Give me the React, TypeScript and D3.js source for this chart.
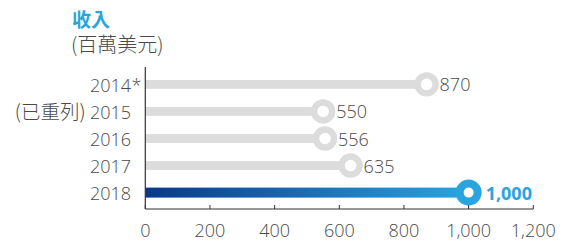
import React from "react";
import * as d3 from "d3";

const years = ["2014*", "2015", "2016", "2017", "2018"];
const notes = ["", "(已重列)", "", "", ""];
const revenue = [870, 550, 556, 635, 1000];
const highlight = [false, false, false, false, true];
const xTicks = [0, 200, 400, 600, 800, 1000, 1200];
const title = "收入";
const subtitle = "(百萬美元)";

const W = 565;
const H = 248;
const FONT = "'Open Sans', 'Noto Sans CJK TC', 'Noto Sans', sans-serif";
const CJK = "'Noto Sans CJK TC', 'Open Sans', sans-serif";
const GRAY = "#dcdcdc";
const TEXT = "#4a4a4a";
const BLUE = "#2aa4df";
const NAVY = "#0a3889";

export default function App() {
  const x = d3.scaleLinear().domain([0, 1200]).range([145.3, 533.3]);
  const y = d3.scalePoint<string>().domain(years).range([84.4, 192.6]);
  const axisY = 209;
  const fmt = d3.format(",");

  return (
    <svg
      width={W}
      height={H}
      style={{ position: "absolute", left: 0, top: 0, background: "#fff" }}
      fontFamily={FONT}
    >
      <defs>
        <linearGradient id="hl" x1="0" x2="1" y1="0" y2="0">
          <stop offset="0%" stopColor={NAVY} />
          <stop offset="100%" stopColor={BLUE} />
        </linearGradient>
      </defs>
      <text x={72} y={27} fontSize={19} fontWeight={700} fill={BLUE} fontFamily={CJK}>
        {title}
      </text>
      <text x={71} y={52} fontSize={20} fontWeight={300} fill={TEXT} fontFamily={CJK}>
        {subtitle}
      </text>

      {years.map((yr, i) => {
        const cy = y(yr)!;
        const cx = x(revenue[i]);
        const hl = highlight[i];
        const star = yr.endsWith("*");
        const base = star ? yr.slice(0, -1) : yr;
        const h = hl ? 10 : 8.8;
        return (
          <g key={yr}>
            <rect
              x={x(0)}
              y={cy - h / 2}
              width={cx - x(0)}
              height={h}
              fill={hl ? "url(#hl)" : GRAY}
            />
            <circle
              cx={cx}
              cy={cy}
              r={9}
              fill="#fff"
              stroke={hl ? BLUE : GRAY}
              strokeWidth={hl ? 8 : 6.4}
            />
            <text
              x={cx + (hl ? 17 : 13)}
              y={cy + 7}
              fontSize={18}
              fontWeight={hl ? 700 : 300}
              fill={hl ? BLUE : TEXT}
            >
              {fmt(revenue[i])}
            </text>
            <text x={131} y={cy + 7.5} fontSize={18} fontWeight={300} fill={TEXT} textAnchor="end">
              {notes[i] && (
                <tspan fontFamily={CJK} fontSize={19.5}>
                  {notes[i] + " "}
                </tspan>
              )}
              {base}
            </text>
            {star && (
              <text x={131.5} y={cy + 7.5} fontSize={18} fontWeight={300} fill={TEXT}>
                *
              </text>
            )}
          </g>
        );
      })}

      <line x1={x(0)} x2={x(0)} y1={67} y2={axisY} stroke="#333" strokeWidth={1.2} />
      <line x1={x(0)} x2={x(1200)} y1={axisY} y2={axisY} stroke="#333" strokeWidth={1.2} />
      {xTicks.map((t) => (
        <g key={t}>
          <line x1={x(t)} x2={x(t)} y1={axisY} y2={axisY - 4} stroke="#333" strokeWidth={1} />
          <text x={x(t)} y={236.5} fontSize={18} fontWeight={300} fill={TEXT} textAnchor="middle">
            {fmt(t)}
          </text>
        </g>
      ))}
    </svg>
  );
}
